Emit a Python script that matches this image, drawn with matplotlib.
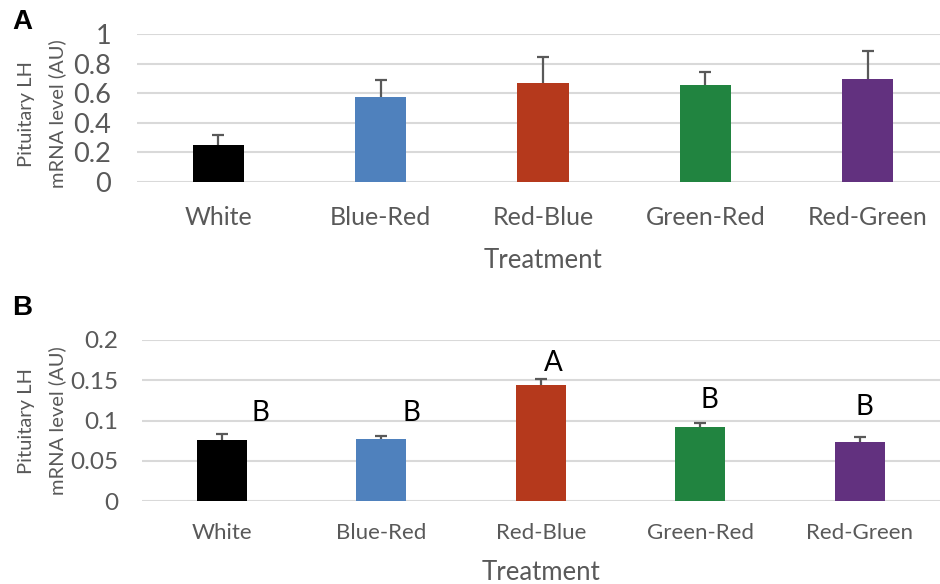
import matplotlib
matplotlib.use("Agg")
import matplotlib.pyplot as plt

treatments = ["White", "Blue-Red", "Red-Blue", "Green-Red", "Red-Green"]
bar_colors = ["#000000", "#4F81BD", "#B5391C", "#218440", "#62317F"]

# panel A: pituitary LH mRNA, means and upper error
lh_a = [0.25, 0.574, 0.669, 0.655, 0.696]
err_a = [0.068, 0.116, 0.173, 0.086, 0.187]
ticks_a = [0, 0.2, 0.4, 0.6, 0.8, 1]
ticklabels_a = ["0", "0.2", "0.4", "0.6", "0.8", "1"]

# panel B
lh_b = [0.0759, 0.0771, 0.1439, 0.0920, 0.0734]
err_b = [0.0074, 0.0041, 0.0071, 0.0049, 0.0066]
ticks_b = [0, 0.05, 0.1, 0.15, 0.2]
ticklabels_b = ["0", "0.05", "0.1", "0.15", "0.2"]
letters_b = ["B", "B", "A", "B", "B"]
letter_y_b = [0.109, 0.109, 0.171, 0.125, 0.117]
letter_dx_b = [0.24, 0.19, 0.08, 0.06, 0.03]

FONT = "Lato"
GRAY = "#595959"
GRID = "#D9D9D9"
PX = 0.72  # points per pixel at dpi 100


def draw_panel(ax, values, errs, ticks, ticklabels, ymax, tick_size, xtick_size, pad_px, xpad_px):
    x = list(range(len(treatments)))
    ax.bar(x, values, width=0.315, color=bar_colors, zorder=2)
    _, caps, _ = ax.errorbar(x, values, yerr=[[0] * len(errs), errs], fmt="none",
                             ecolor=GRAY, elinewidth=1.6, capsize=4.3,
                             capthick=1.6, zorder=3)
    # hide the cap sitting on top of the bar (lower error is zero)
    for c in caps:
        if list(c.get_ydata()) == list(values):
            c.set_visible(False)
    ax.set_xlim(-0.5, len(treatments) - 0.5)
    ax.set_ylim(0, ymax)
    ax.set_yticks(ticks)
    ax.set_yticklabels(ticklabels, fontsize=tick_size, color=GRAY, family=FONT)
    ax.set_xticks(x)
    ax.set_xticklabels(treatments, fontsize=xtick_size, color=GRAY, family=FONT)
    ax.tick_params(axis="y", length=0, pad=pad_px * PX)
    ax.tick_params(axis="x", length=0, pad=xpad_px * PX)
    for t in ticks:
        ax.axhline(t, color=GRID, lw=1.5, zorder=1)
    for s in ax.spines.values():
        s.set_visible(False)


fig = plt.figure(figsize=(9.4, 5.84), dpi=100)
W, H = 940, 584

ax_a = fig.add_axes([137 / W, 1 - 182 / H, (949 - 137) / W, (182 - 34) / H])
draw_panel(ax_a, lh_a, err_a, ticks_a, ticklabels_a, 1, 19.5, 18, 26, 24)
ax_a.set_xlabel("Treatment", fontsize=18.5, color=GRAY, family=FONT, labelpad=19 * PX)

ax_b = fig.add_axes([142 / W, 1 - 501.3 / H, (939.5 - 142) / W, (501.3 - 339.7) / H])
draw_panel(ax_b, lh_b, err_b, ticks_b, ticklabels_b, 0.2, 17.5, 16, 24, 22)
ax_b.set_xlabel("Treatment", fontsize=18.5, color=GRAY, family=FONT, labelpad=17 * PX)

for i, (lab, ly, dx) in enumerate(zip(letters_b, letter_y_b, letter_dx_b)):
    ax_b.text(i + dx, ly, lab, fontsize=20, color="black", family=FONT,
              ha="center", va="center")

for ax, top in [(ax_a, 114), (ax_b, 421)]:
    fig.text(42 / W, 1 - top / H, "Pituitary LH\nmRNA level (AU)", rotation=90,
             fontsize=14.5, color=GRAY, family=FONT, ha="center", va="center",
             linespacing=1.85)

fig.text(12 / W, 1 - 22 / H, "A", fontsize=20, fontweight="bold",
         family="Liberation Sans", ha="left", va="center")
fig.text(12 / W, 1 - 308 / H, "B", fontsize=20, fontweight="bold",
         family="Liberation Sans", ha="left", va="center")

fig.savefig("out.png", dpi=100)
